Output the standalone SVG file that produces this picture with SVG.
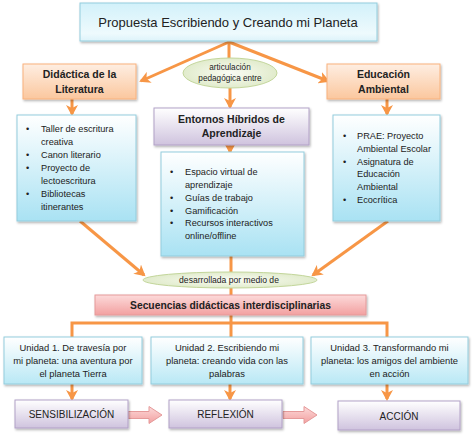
<svg xmlns="http://www.w3.org/2000/svg" width="474" height="438" viewBox="0 0 474 438">
<defs>
<linearGradient id="gTitle" x1="0" y1="0" x2="0" y2="1"><stop offset="0" stop-color="#D2F1FA"/><stop offset="0.8" stop-color="#EEFAFD"/><stop offset="1" stop-color="#DDF3FA"/></linearGradient>
<linearGradient id="gBlue" x1="0" y1="0" x2="0" y2="1"><stop offset="0" stop-color="#FFFFFF"/><stop offset="1" stop-color="#A9E2F3"/></linearGradient>
<linearGradient id="gUnit" x1="0" y1="0" x2="0" y2="1"><stop offset="0" stop-color="#FFFFFF"/><stop offset="1" stop-color="#B9E8F5"/></linearGradient>
<linearGradient id="gOrange" x1="0" y1="0" x2="0" y2="1"><stop offset="0" stop-color="#FEEEE2"/><stop offset="1" stop-color="#FBC79E"/></linearGradient>
<linearGradient id="gPurple" x1="0" y1="0" x2="0" y2="1"><stop offset="0" stop-color="#FFFFFF"/><stop offset="1" stop-color="#CFC3DE"/></linearGradient>
<linearGradient id="gPink" x1="0" y1="0" x2="0" y2="1"><stop offset="0" stop-color="#FCDADA"/><stop offset="1" stop-color="#F2A0A0"/></linearGradient>
<radialGradient id="gGreen" cx="0.5" cy="0.5" r="0.6"><stop offset="0" stop-color="#FAFCF4"/><stop offset="1" stop-color="#DCE8C4"/></radialGradient>
<filter id="sh" x="-10%" y="-10%" width="125%" height="135%"><feDropShadow dx="1" dy="1.5" stdDeviation="1" flood-color="#000" flood-opacity="0.3"/></filter>
<marker id="ah" markerUnits="userSpaceOnUse" markerWidth="12" markerHeight="12" refX="9" refY="6" orient="auto"><path d="M0,0 L11,6 L0,12 L3,6 z" fill="#F79646"/></marker>
<style>
.c{stroke:#F79646;stroke-width:3;fill:none}
.ca{stroke:#F79646;stroke-width:3;fill:none;marker-end:url(#ah)}
.t{font-family:"Liberation Sans",Arial,sans-serif;fill:#222}
.b{font-weight:bold}
.lst{font-size:9.2px}
.u{font-size:9.4px}
.box{filter:url(#sh)}
</style>
</defs>

<g id="connectors">
<line class="c" x1="229" y1="41" x2="229" y2="58"/>
<line class="ca" x1="229" y1="42" x2="141" y2="81"/>
<line class="ca" x1="229" y1="42" x2="328" y2="81"/>
<line class="ca" x1="230" y1="88" x2="230" y2="107"/>
<line class="ca" x1="72" y1="99" x2="72" y2="114"/>
<line class="ca" x1="387" y1="99" x2="387" y2="114"/>
<line class="ca" x1="230" y1="145" x2="230" y2="152"/>
<line class="ca" x1="80" y1="221" x2="144" y2="275"/>
<line class="ca" x1="388" y1="221" x2="313" y2="275"/>
<line class="c" x1="231" y1="256" x2="231" y2="295"/>
<line class="c" x1="231" y1="315" x2="231" y2="337"/>
<polyline class="c" points="72,337 72,323 387,323 387,337"/>
<line class="ca" x1="72" y1="384" x2="72" y2="399"/>
<line class="ca" x1="230" y1="384" x2="230" y2="399"/>
<line class="ca" x1="387" y1="384" x2="387" y2="399"/>
<path d="M128,411.5 H149 V406.5 L162,415 L149,423.5 V418.5 H128 Z" fill="url(#gPink)" stroke="#E59A9A" stroke-width="1"/>
<path d="M283,411.5 H304 V406.5 L317,415 L304,423.5 V418.5 H283 Z" fill="url(#gPink)" stroke="#E59A9A" stroke-width="1"/>
</g>

<g id="title">
<rect class="box" x="80" y="3" width="297" height="38" fill="url(#gTitle)" stroke="#93CDDD"/>
<text class="t" x="228" y="26.5" font-size="13" text-anchor="middle">Propuesta Escribiendo y Creando mi Planeta</text>
</g>

<g id="didactica">
<rect class="box" x="23" y="64" width="113" height="35" fill="url(#gOrange)" stroke="#F9B27D"/>
<text class="t b" x="79.5" y="78" font-size="10.5" text-anchor="middle">Didáctica de la</text>
<text class="t b" x="79.5" y="93" font-size="10.5" text-anchor="middle">Literatura</text>
</g>

<g id="articulacion">
<ellipse cx="230" cy="73" rx="47" ry="15" fill="url(#gGreen)" stroke="#C3D69B"/>
<text class="t" x="230" y="70" font-size="8.2" text-anchor="middle">articulación</text>
<text class="t" x="230" y="81" font-size="8.2" text-anchor="middle">pedagógica entre</text>
</g>

<g id="educacion">
<rect class="box" x="327" y="64" width="113" height="35" fill="url(#gOrange)" stroke="#F9B27D"/>
<text class="t b" x="383.5" y="78" font-size="10.5" text-anchor="middle">Educación</text>
<text class="t b" x="383.5" y="93" font-size="10.5" text-anchor="middle">Ambiental</text>
</g>

<g id="entornos">
<rect class="box" x="154" y="108" width="155" height="37" fill="url(#gPurple)" stroke="#B2A1C7"/>
<text class="t b" x="231.5" y="123" font-size="10.5" text-anchor="middle">Entornos Híbridos de</text>
<text class="t b" x="231.5" y="137" font-size="10.5" text-anchor="middle">Aprendizaje</text>
</g>

<g id="lista-literatura">
<rect class="box" x="17" y="115" width="119" height="106" fill="url(#gBlue)" stroke="#93CDDD"/>
<g class="t lst">
<text x="26" y="132">•</text><text x="41" y="132">Taller de escritura</text>
<text x="41" y="145">creativa</text>
<text x="26" y="158">•</text><text x="41" y="158">Canon literario</text>
<text x="26" y="171">•</text><text x="41" y="171">Proyecto de</text>
<text x="41" y="184">lectoescritura</text>
<text x="26" y="197">•</text><text x="41" y="197">Bibliotecas</text>
<text x="41" y="210">itinerantes</text>
</g>
</g>

<g id="lista-entornos">
<rect class="box" x="161" y="152" width="143" height="104" fill="url(#gBlue)" stroke="#93CDDD"/>
<g class="t lst">
<text x="170" y="175">•</text><text x="185" y="175">Espacio virtual de</text>
<text x="185" y="188">aprendizaje</text>
<text x="170" y="201">•</text><text x="185" y="201">Guías de trabajo</text>
<text x="170" y="214">•</text><text x="185" y="214">Gamificación</text>
<text x="170" y="226">•</text><text x="185" y="226">Recursos interactivos</text>
<text x="185" y="239">online/offline</text>
</g>
</g>

<g id="lista-ambiental">
<rect class="box" x="333" y="115" width="107" height="106" fill="url(#gBlue)" stroke="#93CDDD"/>
<g class="t lst">
<text x="343" y="139">•</text><text x="357" y="139">PRAE: Proyecto</text>
<text x="357" y="152">Ambiental Escolar</text>
<text x="343" y="165">•</text><text x="357" y="165">Asignatura de</text>
<text x="357" y="177">Educación</text>
<text x="357" y="190">Ambiental</text>
<text x="343" y="203">•</text><text x="357" y="203">Ecocrítica</text>
</g>
</g>

<g id="desarrollada">
<ellipse cx="230" cy="280" rx="87" ry="8" fill="url(#gGreen)" stroke="#C3D69B"/>
<text class="t" x="229" y="283" font-size="8.6" text-anchor="middle">desarrollada por medio de</text>
</g>

<g id="secuencias">
<rect class="box" x="95" y="295" width="271" height="20" fill="url(#gPink)" stroke="#E59A9A"/>
<text class="t b" x="230.5" y="309" font-size="10.3" text-anchor="middle">Secuencias didácticas interdisciplinarias</text>
</g>

<g id="unidad1">
<rect class="box" x="4" y="337" width="138" height="47" fill="url(#gUnit)" stroke="#93CDDD"/>
<g class="t u" text-anchor="middle">
<text x="73" y="351">Unidad 1. De travesía por</text>
<text x="73" y="364">mi planeta: una aventura por</text>
<text x="73" y="377">el planeta Tierra</text>
</g>
</g>

<g id="unidad2">
<rect class="box" x="151" y="337" width="152" height="47" fill="url(#gUnit)" stroke="#93CDDD"/>
<g class="t u" text-anchor="middle">
<text x="227" y="351">Unidad 2. Escribiendo mi</text>
<text x="227" y="364">planeta: creando vida con las</text>
<text x="227" y="377">palabras</text>
</g>
</g>

<g id="unidad3">
<rect class="box" x="311" y="337" width="157" height="47" fill="url(#gUnit)" stroke="#93CDDD"/>
<g class="t u" text-anchor="middle">
<text x="389.5" y="351">Unidad 3. Transformando mi</text>
<text x="389.5" y="364">planeta: los amigos del ambiente</text>
<text x="389.5" y="377">en acción</text>
</g>
</g>

<g id="sensibilizacion">
<rect class="box" x="15" y="400" width="113" height="28" fill="url(#gPurple)" stroke="#B2A1C7"/>
<text class="t" x="71.5" y="418" font-size="10" text-anchor="middle">SENSIBILIZACIÓN</text>
</g>

<g id="reflexion">
<rect class="box" x="169" y="400" width="113" height="28" fill="url(#gPurple)" stroke="#B2A1C7"/>
<text class="t" x="225.5" y="418" font-size="10" text-anchor="middle">REFLEXIÓN</text>
</g>

<g id="accion">
<rect class="box" x="338" y="401" width="122" height="29" fill="url(#gPurple)" stroke="#B2A1C7"/>
<text class="t" x="399" y="419.5" font-size="10" text-anchor="middle">ACCIÓN</text>
</g>
</svg>
